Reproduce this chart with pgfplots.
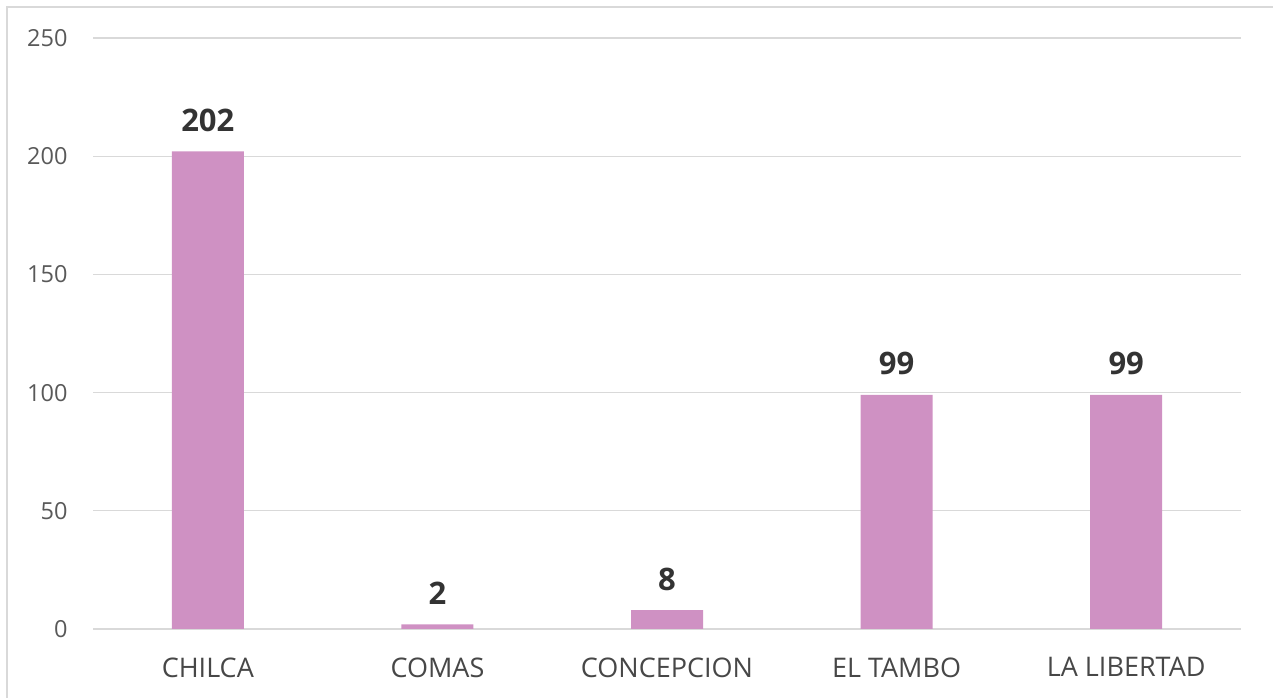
\documentclass[border=0pt]{standalone}
\usepackage{fontspec}
\setmainfont{Open Sans}
\usepackage{pgfplots}
\pgfplotsset{compat=1.18}
\definecolor{barc}{HTML}{CF91C3}
\definecolor{gridc}{HTML}{D9D9D9}
\definecolor{tickc}{HTML}{595959}
\definecolor{labc}{HTML}{333333}
\begin{document}
\begin{tikzpicture}[x=1pt,y=1pt]
\useasboundingbox (0,0) rectangle (1273,698);
\begin{scope}
\clip (0,0) rectangle (1273,698);
\draw[gridc, line width=1.5pt] (7,-10) rectangle (1290,691);
\end{scope}
\begin{axis}[
  at={(93pt,69pt)}, anchor=south west,
  scale only axis, width=1148pt, height=591pt,
  xmin=-0.5, xmax=4.5, ymin=0, ymax=250,
  ytick={0,50,100,150,200,250},
  xtick={0,1,2,3,4},
  xticklabels={CHILCA,COMAS,CONCEPCION,EL TAMBO,LA LIBERTAD},
  axis line style={draw=none},
  major tick length=0pt,
  ymajorgrids, grid style={gridc, line width=1.2pt},
  /pgf/number format/assume math mode=true,
  yticklabel style={font=\fontsize{23.5}{26}\selectfont, text=tickc, xshift=-22pt},
  xticklabel style={font=\fontsize{27}{30}\selectfont, text=labc!90, yshift=-25pt},
  ybar, bar width=72pt,
  nodes near coords,
  every node near coord/.append style={font=\fontsize{31}{34}\bfseries\selectfont, text=labc, anchor=base, yshift=20pt},
]
\addplot[fill=barc, draw=none] coordinates {(0,202) (1,2) (2,8) (3,99) (4,99)};
\end{axis}
\end{tikzpicture}
\end{document}
